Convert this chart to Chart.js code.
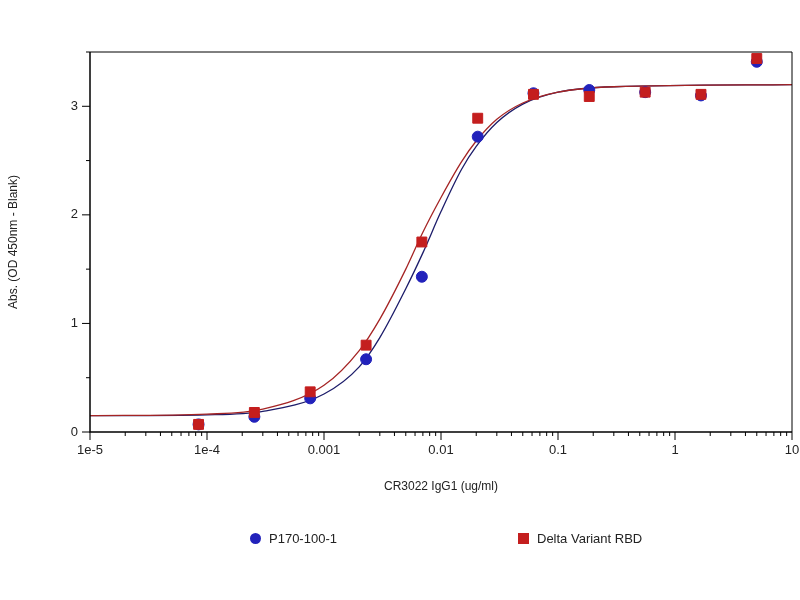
<!DOCTYPE html>
<html><head><meta charset="utf-8">
<script src="https://cdn.jsdelivr.net/npm/chart.js@4"></script>
<style>
body{margin:0;background:#fff;font-family:"Liberation Sans",Arial,sans-serif}
#wrap{position:relative;width:800px;height:600px}
.leg{position:absolute;top:531px;font-size:13px;color:#222}
.leg i{display:inline-block;width:11px;height:11px;margin-right:8px;vertical-align:-1px}
</style></head><body>
<div id="wrap"><canvas id="c" width="800" height="600"></canvas>
<div class="leg" style="left:250px"><i style="background:#2222bb;border-radius:50%"></i>P170-100-1</div>
<div class="leg" style="left:518px"><i style="background:#c41e1e"></i>Delta Variant RBD</div>
</div>
<script>
// concentrations (ug/ml), 3-fold dilution
const conc = [0.0000847, 0.000254, 0.000762, 0.00229, 0.00686, 0.0206, 0.0617, 0.185, 0.556, 1.667, 5];
const blueVals = [0.07, 0.14, 0.31, 0.67, 1.43, 2.72, 3.12, 3.15, 3.13, 3.10, 3.41];
const redVals = [0.07, 0.18, 0.37, 0.80, 1.75, 2.89, 3.11, 3.09, 3.13, 3.11, 3.44];
// fitted curves
const curveX = [0.00001, 0.0001, 0.0003, 0.001, 0.002, 0.003, 0.005, 0.007, 0.01, 0.015, 0.02, 0.03, 0.05, 0.1, 0.3, 10];
const blueCurve = [0.15, 0.158, 0.19, 0.35, 0.60, 0.87, 1.32, 1.65, 2.03, 2.42, 2.63, 2.85, 3.02, 3.13, 3.18, 3.2];
const redCurve = [0.15, 0.165, 0.21, 0.43, 0.75, 1.04, 1.50, 1.84, 2.16, 2.49, 2.68, 2.88, 3.03, 3.13, 3.18, 3.2];
const majorX = [1e-5, 1e-4, 1e-3, 1e-2, 0.1, 1, 10];
const xLabels = ["1e-5", "1e-4", "0.001", "0.01", "0.1", "1", "10"];
const yTicks = [0, 1, 2, 3];

const pts = (xs, ys) => xs.map((x, i) => ({ x, y: ys[i] }));

// draws axis ticks and frame
const axesPlugin = {
  id: "axes",
  afterDraw(chart) {
    const { ctx, chartArea: a, scales } = chart;
    ctx.save();
    ctx.strokeStyle = "#000";
    ctx.lineWidth = 1;
    ctx.beginPath();
    ctx.moveTo(a.left, a.top); ctx.lineTo(a.right, a.top); ctx.lineTo(a.right, a.bottom);
    ctx.stroke();
    ctx.lineWidth = 1.5;
    ctx.beginPath();
    ctx.moveTo(a.left, a.top); ctx.lineTo(a.left, a.bottom); ctx.lineTo(a.right, a.bottom);
    ctx.stroke();
    ctx.lineWidth = 1;
    ctx.beginPath();
    for (let d = 0; d < 6; d++) {
      for (let k = 1; k <= 9; k++) {
        const px = scales.x.getPixelForValue(majorX[d] * k);
        const len = k === 1 ? 8 : 4;
        ctx.moveTo(px, a.bottom); ctx.lineTo(px, a.bottom + len);
      }
    }
    const pr = scales.x.getPixelForValue(10);
    ctx.moveTo(pr, a.bottom); ctx.lineTo(pr, a.bottom + 8);
    for (let v = 0; v <= 3.5; v += 0.5) {
      const py = scales.y.getPixelForValue(v);
      const len = Number.isInteger(v) ? 8 : 4;
      ctx.moveTo(a.left, py); ctx.lineTo(a.left - len, py);
    }
    ctx.stroke();
    ctx.fillStyle = "#222";
    ctx.font = "13px 'Liberation Sans', Arial, sans-serif";
    ctx.textAlign = "center"; ctx.textBaseline = "top";
    majorX.forEach((v, i) => ctx.fillText(xLabels[i], scales.x.getPixelForValue(v), a.bottom + 12));
    ctx.textAlign = "right"; ctx.textBaseline = "middle";
    yTicks.forEach(v => ctx.fillText(String(v), a.left - 12, scales.y.getPixelForValue(v)));
    ctx.font = "12px 'Liberation Sans', Arial, sans-serif";
    ctx.textAlign = "center"; ctx.textBaseline = "middle";
    ctx.fillText("CR3022 IgG1 (ug/ml)", (a.left + a.right) / 2, 487);
    ctx.translate(14, (a.top + a.bottom) / 2);
    ctx.rotate(-Math.PI / 2);
    ctx.fillText("Abs. (OD 450nm - Blank)", 0, 0);
    ctx.restore();
  }
};

new Chart(document.getElementById("c"), {
  type: "scatter",
  data: {
    datasets: [
      { data: pts(conc, blueVals), backgroundColor: "#2222bb", borderColor: "#2222bb", pointRadius: 5.5, pointStyle: "circle", order: 1 },
      { data: pts(conc, redVals), backgroundColor: "#c41e1e", borderColor: "#c41e1e", pointRadius: 7, pointStyle: "rect", order: 0 },
      { type: "line", data: pts(curveX, blueCurve), borderColor: "#1c1c6a", borderWidth: 1.3, pointRadius: 0, cubicInterpolationMode: "monotone", order: 3 },
      { type: "line", data: pts(curveX, redCurve), borderColor: "#a52424", borderWidth: 1.3, pointRadius: 0, cubicInterpolationMode: "monotone", order: 2 }
    ]
  },
  options: {
    responsive: false,
    animation: false,
    layout: { padding: { left: 90, right: 7, top: 52, bottom: 168 } },
    plugins: { legend: { display: false }, tooltip: { enabled: false } },
    scales: {
      x: { type: "logarithmic", min: 1e-5, max: 10, display: false },
      y: { min: 0, max: 3.5, display: false }
    }
  },
  plugins: [axesPlugin]
});
</script>
</body></html>
